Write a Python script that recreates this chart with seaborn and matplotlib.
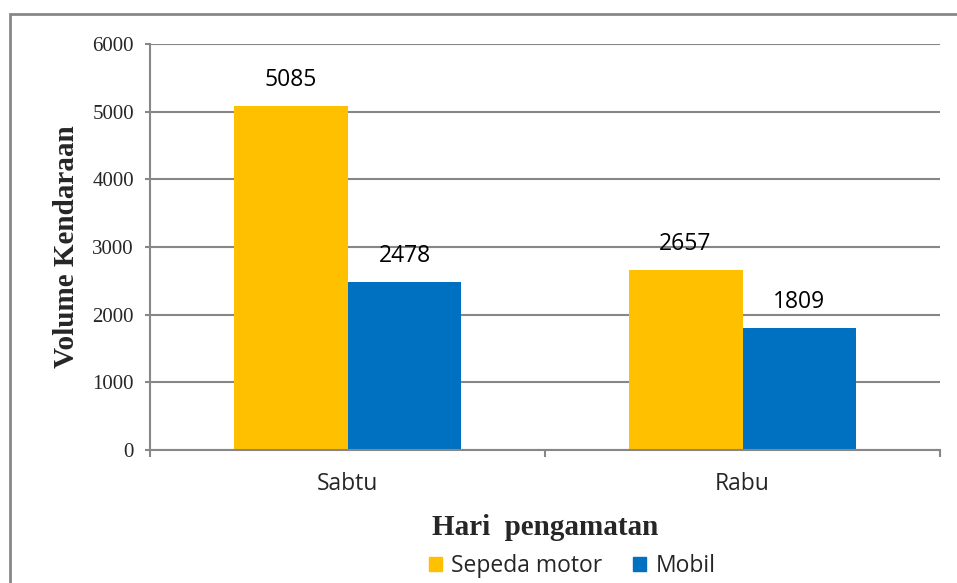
import pandas as pd
import seaborn as sns
import matplotlib.pyplot as plt
from matplotlib.patches import Rectangle, Patch

## Data
days = ['Sabtu', 'Rabu']
motor = [5085, 2657]
mobil = [2478, 1809]
series = ['Sepeda motor', 'Mobil']
colors = ['#FFC000', '#0070C0']

df = pd.DataFrame({'Hari': days * 2,
                   'Jenis': [series[0]] * 2 + [series[1]] * 2,
                   'Volume': motor + mobil})

sns.set_style('white')
grey = '#878787'
serif = 'Liberation Serif'
sans = 'Open Sans'
sans_size = 16.5

fig = plt.figure(figsize=(9.57, 5.83), dpi=100)
ax = fig.add_axes([150/957, 1 - 450/583, 790/957, 406/583])

sns.barplot(data=df, x='Hari', y='Volume', hue='Jenis', palette=colors,
            width=0.577, saturation=1, linewidth=0, legend=False, ax=ax)

# value labels on top of each bar
for cont in ax.containers:
    ax.bar_label(cont, padding=10, fontsize=sans_size, family=sans, color='black')

ax.set_ylim(0, 6000)
ax.set_xlim(-0.5, 1.5)
ax.set_yticks(range(0, 6001, 1000))
ax.grid(axis='y', color=grey, linewidth=1.5)
ax.set_axisbelow(True)
for s in ['top', 'right']:
    ax.spines[s].set_visible(False)
for s in ['left', 'bottom']:
    ax.spines[s].set_color(grey)
    ax.spines[s].set_linewidth(1.5)

ax.tick_params(axis='y', length=3.6, width=1.5, color=grey, left=True, pad=8)
ax.set_xticks([-0.5, 0.5, 1.5], minor=True)
ax.tick_params(axis='x', which='minor', length=5, width=1.5, color=grey, bottom=True)
ax.tick_params(axis='x', which='major', length=0, pad=16)
for lbl in ax.get_yticklabels():
    lbl.set_family(serif)
    lbl.set_fontsize(15)
for lbl in ax.get_xticklabels():
    lbl.set_family(sans)
    lbl.set_fontsize(sans_size)

ax.set_xlabel('Hari  pengamatan', family=serif, fontsize=21, fontweight='bold', labelpad=13)
ax.set_ylabel('Volume Kendaraan', family=serif, fontsize=21, fontweight='bold', labelpad=9)

# legend below the x label
handles = [Patch(color=c) for c in colors]
fig.legend(handles, series, loc='center', bbox_to_anchor=(572/957, 1 - 566/583),
           ncol=2, frameon=False, prop={'family': sans, 'size': sans_size},
           handlelength=0.6, handleheight=0.6, handletextpad=0.4, columnspacing=1.3,
           borderpad=0)

# outer chart frame (runs off the right and bottom edge)
fig.patches.append(Rectangle((10/957, -0.05), 1.0, 1 - 14/583 + 0.05,
                             transform=fig.transFigure, fill=False,
                             edgecolor=grey, linewidth=2))

fig.savefig('out.png', dpi=100)
